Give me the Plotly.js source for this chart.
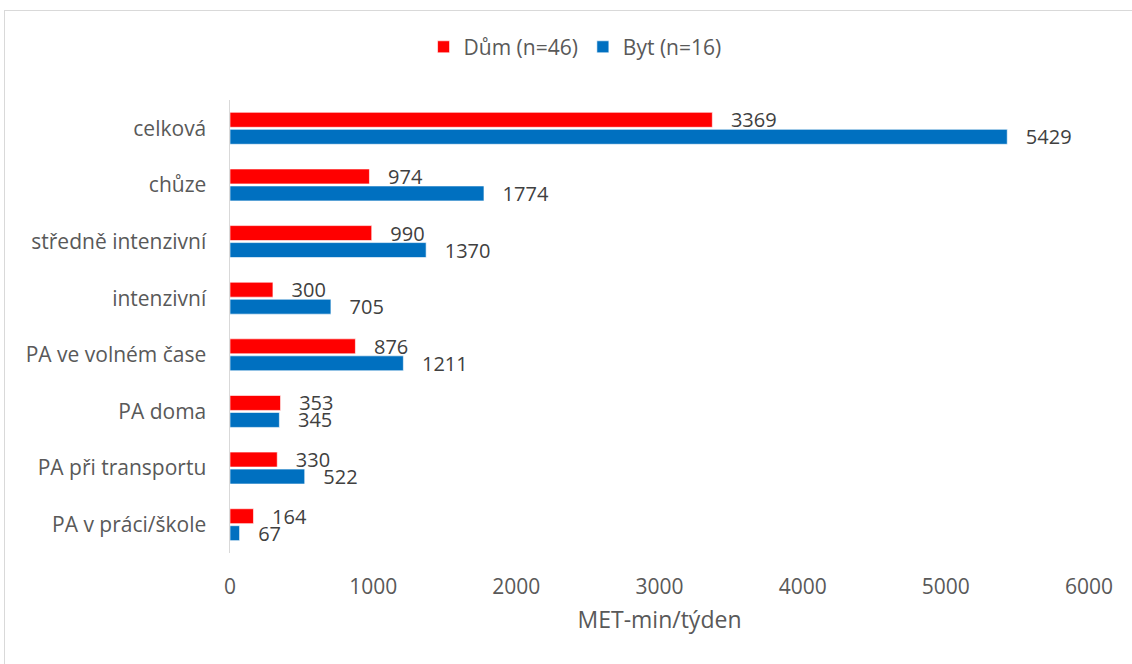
<!DOCTYPE html>
<html>
<head>
<meta charset="utf-8">
<script src="https://cdn.plot.ly/plotly-3.0.1.min.js"></script>
<style>
  body { margin: 0; background: #fff; }
  #ramecek { position: absolute; left: 4px; top: 10px; width: 1140px; height: 670px; border: 1px solid #d9d9d9; }
  #graf { position: absolute; left: 0; top: 0; width: 1132px; height: 664px; }
</style>
</head>
<body>
<div id="ramecek"></div>
<div id="graf"></div>
<script>
// Kategorie pohybové aktivity (shora dolů)
const kategorie = [
  "celková",
  "chůze",
  "středně intenzivní",
  "intenzivní",
  "PA ve volném čase",
  "PA doma",
  "PA při transportu",
  "PA v práci/škole",
];

// Hodnoty MET-min/týden
const dum = [3369, 974, 990, 300, 876, 353, 330, 164];
const byt = [5429, 1774, 1370, 705, 1211, 345, 522, 67];

const pismo = "'Open Sans', sans-serif";

function serie(nazev, hodnoty, barva) {
  return {
    type: "bar",
    orientation: "h",
    name: nazev,
    y: kategorie,
    x: hodnoty,
    marker: { color: barva, line: { color: "rgba(255,255,255,0.6)", width: 1 } },
    text: hodnoty.map((v) => "   " + v),
    textposition: "outside",
    constraintext: "none",
    cliponaxis: false,
    textfont: { family: pismo, size: 20, color: "#404040" },
    hoverinfo: "x+name",
  };
}

const data = [
  serie("Dům (n=46)", dum, "#ff0000"),
  serie("Byt (n=16)", byt, "#0070c0"),
];

const layout = {
  width: 1132,
  height: 664,
  margin: { l: 230, r: 43, t: 100, b: 111 },
  paper_bgcolor: "rgba(0,0,0,0)",
  plot_bgcolor: "rgba(0,0,0,0)",
  font: { family: pismo, size: 21, color: "#595959" },
  barmode: "group",
  bargap: 0.4,
  bargroupgap: 0.12,
  showlegend: true,
  legend: {
    orientation: "h",
    xref: "container",
    yref: "container",
    x: 0.508,
    xanchor: "center",
    y: 0.929,
    yanchor: "middle",
    font: { family: pismo, size: 21, color: "#595959" },
    traceorder: "normal",
    itemwidth: 30,
  },
  xaxis: {
    range: [0, 6000],
    dtick: 1000,
    showgrid: false,
    zeroline: false,
    showline: false,
    ticks: "",
    ticklabelstandoff: 19,
    tickfont: { size: 21, color: "#595959" },
    title: { text: "MET-min/týden", font: { size: 23, color: "#595959" }, standoff: 12 },
  },
  yaxis: {
    autorange: "reversed",
    showgrid: false,
    zeroline: false,
    showline: true,
    linecolor: "#d9d9d9",
    linewidth: 1.5,
    ticks: "",
    ticklabelstandoff: 18,
    tickfont: { size: 21, color: "#595959" },
  },
};

Plotly.newPlot("graf", data, layout, { displayModeBar: false, staticPlot: true });
</script>
</body>
</html>
